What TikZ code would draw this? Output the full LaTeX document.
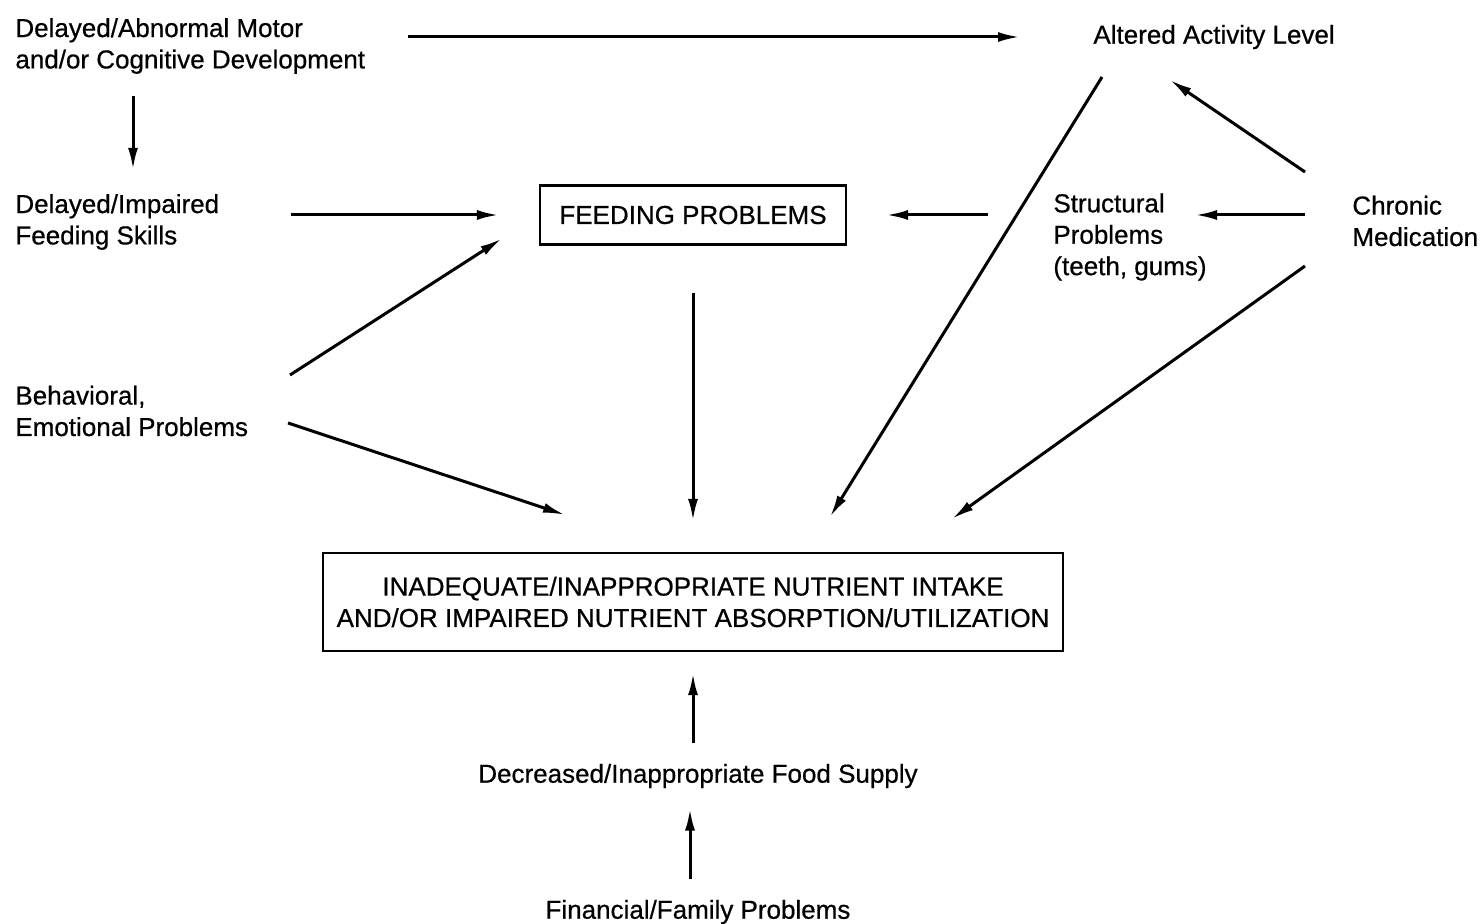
\documentclass[tikz,border=0pt]{standalone}
\usepackage{fontspec}
\setmainfont{Liberation Sans}[FakeBold=0.6]
\usetikzlibrary{calc,arrows.meta}
\begin{document}
\begin{tikzpicture}[x=0.5pt,y=-0.5pt,
  txt/.style={font=\fontsize{13}{15.7}\selectfont, inner sep=0pt},
  lbl/.style={txt, align=left, anchor=west},
  box/.style={txt, draw, line width=1.1pt, align=center},
  arr/.style={line width=1.5pt, -{Latex[length=11pt,width=5pt]}}]
\fill[white] (0,0) rectangle (1482,924);
\useasboundingbox (0,0) rectangle (1482,924);
% nodes
\node[lbl] (dam) at (15,46) {Delayed/Abnormal Motor\\and/or Cognitive Development};
\node[lbl] (aal) at (1093,37) {Altered Activity Level};
\node[lbl] (dfs) at (15,222) {Delayed/Impaired\\Feeding Skills};
\node[box, minimum width=153pt, minimum height=29.5pt] (fp) at (693,215) {FEEDING PROBLEMS};
\node[lbl] (sp) at (1053,237) {Structural\\Problems\\(teeth, gums)};
\node[lbl] (cm) at (1352,221) {Chronic\\Medication};
\node[lbl] (beh) at (15,411) {Behavioral,\\Emotional Problems};
\node[box, minimum width=370pt, minimum height=49pt] (nut) at (693,602) {INADEQUATE/INAPPROPRIATE NUTRIENT INTAKE\\AND/OR IMPAIRED NUTRIENT ABSORPTION/UTILIZATION};
\node[txt] (sup) at (698,776) {Decreased/Inappropriate Food Supply};
\node[txt] (fin) at (698,912) {Financial/Family Problems};
% connectors
\draw[arr] ($(dam.east |- aal.west)+(42,0)$) -- ($(aal.west)+(-73,0)$);
\draw[arr] ($(dam.south west)+(118,22)$) -- ($(dfs.north west)+(118,-24)$);
\draw[arr] ($(dfs.east |- fp.west)+(71,0)$) -- ($(fp.west)+(-40,0)$);
\draw[arr] ($(sp.west |- fp.east)+(-65,0)$) -- ($(fp.east)+(39,0)$);
\draw[arr] ($(cm.west |- fp.east)+(-47,0)$) -- ($(sp.west |- fp.east)+(142,0)$);
\draw[arr] ($(cm.west)+(-47,-49)$) -- ($(aal.west)+(77,43)$);
\draw[arr] ($(aal.west)+(9,40)$) -- ($(nut.north)+(137,-35)$);
\draw[arr] ($(cm.west)+(-47,45)$) -- ($(nut.north)+(259,-33)$);
\draw[arr] ($(beh.west)+(275,-36)$) -- ($(fp.south west)+(-37,-7)$);
\draw[arr] ($(beh.west)+(273,12)$) -- ($(nut.north)+(-128,-37)$);
\draw[arr] ($(fp.south)+(0,47)$) -- ($(nut.north)+(0,-31)$);
\draw[arr] ($(nut.south |- sup.north)+(0,-20)$) -- ($(nut.south)+(0,21)$);
\draw[arr] ($(fin.north)+(-8,-20)$) -- ($(sup.south)+(-8,20)$);
\end{tikzpicture}
\end{document}
